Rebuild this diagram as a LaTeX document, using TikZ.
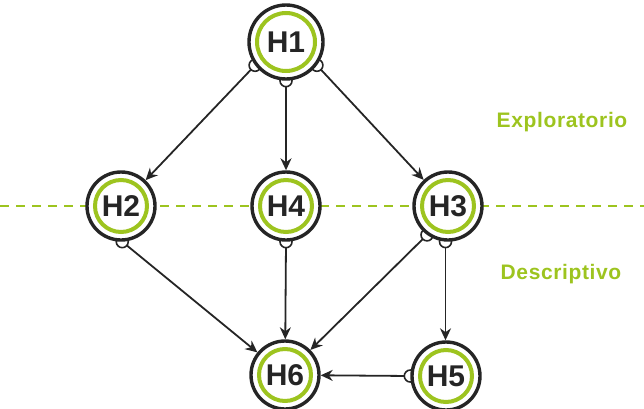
\documentclass[tikz,border=0pt]{standalone}
\usepackage{fontspec}
\setmainfont{Liberation Sans}
\usetikzlibrary{arrows.meta,backgrounds,calc}
\definecolor{lime}{HTML}{9DC41F}
\definecolor{ink}{HTML}{252525}
\begin{document}
\begin{tikzpicture}[x=1pt,y=1pt,
 hnode/.style={circle,draw=ink,line width=3.4pt,fill=white,minimum size=68pt,inner sep=0pt,font=\fontsize{30}{30}\selectfont\bfseries,text=ink},
 ring/.style={draw=lime,line width=4pt},
 edge/.style={draw=ink,line width=1.8pt,-{Stealth[length=12pt,width=11pt]}},
 knob/.style={draw=ink,line width=1.6pt,fill=white},
 lvl/.style={font=\fontsize{21}{21}\selectfont\bfseries\addfontfeature{LetterSpace=3},text=lime},
 sep/.style={draw=lime,line width=1.4pt,dash pattern=on 9pt off 7pt}]
\useasboundingbox (0,0) rectangle (644,408);
\node[hnode,minimum size=74pt] (H1) at (286,366) {H1};
\node[hnode] (H2) at (121,202) {H2};
\node[hnode] (H4) at (286,202) {H4};
\node[hnode] (H3) at (448,202) {H3};
\node[hnode] (H6) at (285,33) {H6};
\node[hnode] (H5) at (446,32) {H5};
\draw[ring] (H1) circle (29pt);
\foreach \n in {H2,H4,H3,H6,H5} \draw[ring] (\n) circle (26pt);
\node[lvl] (exp) at (562,286) {Exploratorio};
\node[lvl] (desc) at (561,134) {Descriptivo};
\coordinate (L) at (0,202);
\coordinate (R) at (644,202);
\begin{scope}[on background layer]
\draw[sep] (L) -- (R);
\draw[edge] (H1.-143) -- (H2);
\draw[edge] (H1.-90) -- (H4);
\draw[edge] (H1.-37) -- (H3);
\draw[edge] (H2.-88) -- (H6);
\draw[edge] (H4.-90) -- (H6);
\draw[edge] (H3.-126) -- (H6);
\draw[edge] (H3.-94) -- (H3.-94 |- H5.north);
\draw[edge] (H5.west) -- (H6);
\foreach \a in {H1.-143,H1.-90,H1.-37,H2.-88,H4.-90,H3.-126,H3.-94,H5.west}
  \draw[knob] (\a) circle (6pt);
\end{scope}
\end{tikzpicture}
\end{document}
